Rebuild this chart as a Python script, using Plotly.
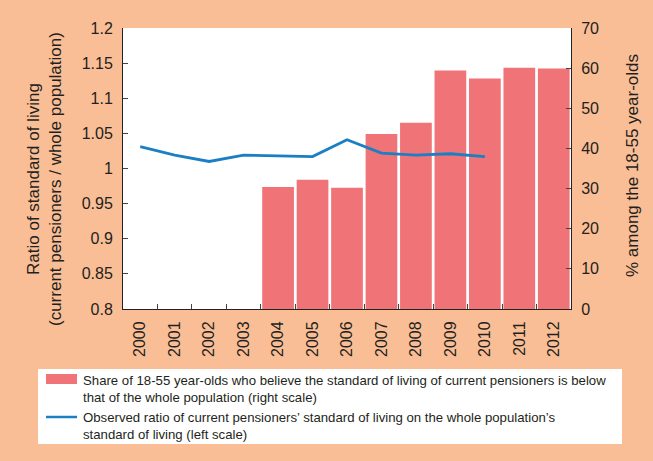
import plotly.graph_objects as go

years = ["2000", "2001", "2002", "2003", "2004", "2005", "2006",
         "2007", "2008", "2009", "2010", "2011", "2012"]
share_pct = [None, None, None, None, 30.4, 32.2, 30.2, 43.6, 46.4, 59.4, 57.4, 60.1, 59.9]
ratio = [1.031, 1.019, 1.010, 1.019, 1.018, 1.017, 1.041, 1.022, 1.019, 1.021, 1.017, None, None]
left_ticks = [0.8, 0.85, 0.9, 0.95, 1.0, 1.05, 1.1, 1.15, 1.2]
left_labels = ["0.8", "0.85", "0.9", "0.95", "1", "1.05", "1.1", "1.15", "1.2"]
right_ticks = [0, 10, 20, 30, 40, 50, 60, 70]

bar_name = ("Share of 18-55 year-olds who believe the standard of living of current pensioners is below"
            "<br>that of the whole population (right scale)")
line_name = ("Observed ratio of current pensioners’ standard of living on the whole population’s"
             "<br>standard of living (left scale)")

W, H = 653, 461
L, R, T, B = 123, 82, 28, 152
PW, PH = W - L - R, H - T - B


def xp(px):
    return (px - L) / PW


def yp(py):
    return (H - B - py) / PH


PEACH = "#F9BE96"
RED = "#F07377"
BLUE = "#1B7FC4"
TXT = "#231F20"
FONT = "Liberation Sans, Arial, Helvetica, sans-serif"

fig = go.Figure()
fig.add_trace(go.Bar(x=years, y=share_pct, name=bar_name, marker_color=RED,
                     marker_line_width=0, yaxis="y", showlegend=False))
fig.add_trace(go.Scatter(x=years, y=ratio, name=line_name, mode="lines",
                         line=dict(color=BLUE, width=2.8), yaxis="y2",
                         connectgaps=False, showlegend=False))

axis_common = dict(showgrid=False, zeroline=False, showline=True, linecolor="#222",
                   linewidth=1, ticks="inside", ticklen=5, tickcolor="#444",
                   tickfont=dict(size=16, color=TXT, family=FONT))

fig.update_layout(
    width=W, height=H,
    margin=dict(l=L, r=R, t=T, b=B, pad=0),
    paper_bgcolor=PEACH, plot_bgcolor="white",
    font=dict(family=FONT, color=TXT),
    bargap=0.08,
    xaxis=dict(type="category", categoryorder="array", categoryarray=years,
               tickson="boundaries", tickangle=-90, ticklabelstandoff=5,
               **axis_common),
    yaxis=dict(side="right", range=[0, 70], tickvals=right_ticks, ticklabelstandoff=6,
               **axis_common),
    yaxis2=dict(side="left", overlaying="y", range=[0.8, 1.2], tickvals=left_ticks,
                ticktext=left_labels, ticklabelstandoff=6, **axis_common),
)

# axis titles
fig.add_annotation(xref="paper", yref="paper", x=xp(45), y=yp(179), xanchor="center",
                   yanchor="middle", textangle=-90, showarrow=False,
                   text="Ratio of standard of living<br>(current pensioners / whole population)",
                   font=dict(size=17, color=TXT, family=FONT))
fig.add_annotation(xref="paper", yref="paper", x=xp(632), y=yp(166), xanchor="center",
                   yanchor="middle", textangle=-90, showarrow=False,
                   text="% among the 18-55 year-olds",
                   font=dict(size=17, color=TXT, family=FONT))

# legend box
fig.add_shape(type="rect", xref="paper", yref="paper", x0=xp(38), x1=xp(622),
              y0=yp(444), y1=yp(369), fillcolor="white", line_width=0, layer="below")
fig.add_shape(type="rect", xref="paper", yref="paper", x0=xp(46), x1=xp(77),
              y0=yp(384), y1=yp(374), fillcolor=RED, line_width=0)
fig.add_shape(type="line", xref="paper", yref="paper", x0=xp(46), x1=xp(77),
              y0=yp(417), y1=yp(417), line=dict(color=BLUE, width=2.5))
fig.add_annotation(xref="paper", yref="paper", x=xp(81), y=yp(388.5), xanchor="left",
                   yanchor="middle", align="left", showarrow=False, text=bar_name,
                   font=dict(size=13.2, color=TXT, family=FONT))
fig.add_annotation(xref="paper", yref="paper", x=xp(81), y=yp(425.5), xanchor="left",
                   yanchor="middle", align="left", showarrow=False, text=line_name,
                   font=dict(size=13.2, color=TXT, family=FONT))

fig.write_html("out.html")
